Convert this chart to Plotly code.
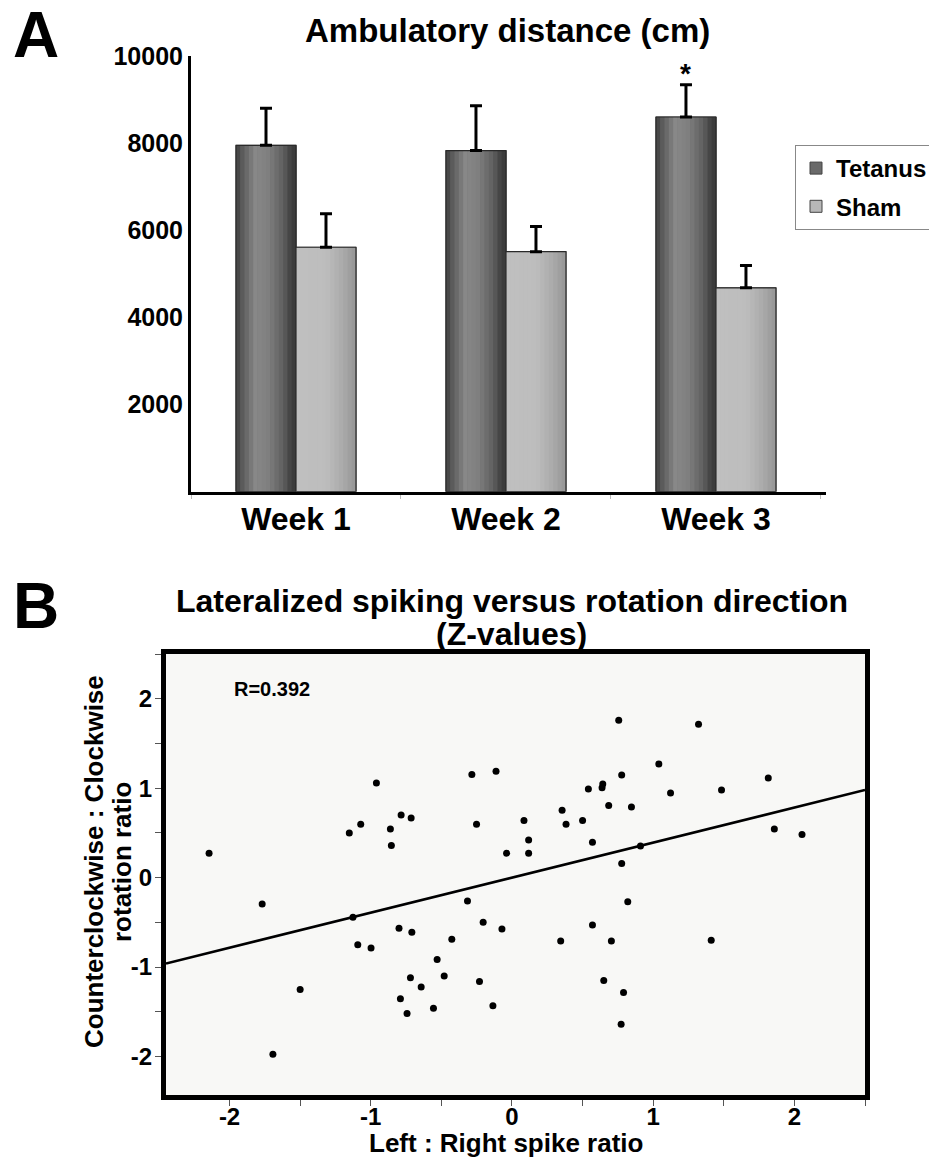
import numpy as np
import plotly.graph_objects as go

# ---------------- data ----------------
weeks = ["Week 1", "Week 2", "Week 3"]
tetanus = [7950, 7830, 8600]
tetanus_err = [850, 1030, 740]
sham = [5610, 5510, 4680]
sham_err = [770, 575, 510]
a_ytick_vals = [2000, 4000, 6000, 8000, 10000]
a_ytick_text = ["2000", "4000", "6000", "8000", "10000"]

spike_ratio = [-2.145, -1.769, -1.50, -1.152, -1.071, -0.960, -0.861, -0.854, -0.785, -0.714,
               -0.284, -0.113, -0.251, -0.038, -1.126, -1.092, -0.998, -0.80, -0.709, -0.426,
               -0.315, -0.204, -0.071, -0.53, -0.719, -0.48, -0.643, -0.23, -0.79, -0.743,
               -0.556, -0.135, -1.693, 0.82, 0.57, 0.345, 0.704, 1.411, 0.65, 0.79,
               0.773, 0.756, 1.321, 1.04, 0.777, 1.815, 0.541, 0.643, 0.638, 1.123,
               1.484, 0.685, 0.846, 0.355, 0.085, 0.383, 0.50, 0.118, 0.118, 0.57,
               1.858, 2.054, 0.91, 0.777]
rotation_ratio = [0.273, -0.295, -1.25, 0.50, 0.597, 1.057, 0.544, 0.359, 0.70, 0.667,
                  1.154, 1.19, 0.596, 0.273, -0.444, -0.749, -0.786, -0.567, -0.611, -0.689,
                  -0.262, -0.50, -0.574, -0.916, -1.12, -1.10, -1.224, -1.16, -1.355, -1.52,
                  -1.46, -1.433, -1.975, -0.27, -0.53, -0.708, -0.708, -0.70, -1.15, -1.284,
                  -1.64, 1.759, 1.715, 1.269, 1.146, 1.113, 0.99, 1.046, 1.005, 0.945,
                  0.979, 0.805, 0.79, 0.753, 0.638, 0.596, 0.638, 0.42, 0.273, 0.396,
                  0.544, 0.481, 0.355, 0.158]
R_value = 0.392
b_tick_vals = [-2, -1.5, -1, -0.5, 0, 0.5, 1, 1.5, 2, 2.5]
b_tick_text = ["-2", "", "-1", "", "0", "", "1", "", "2", ""]

# ---------------- style ----------------
W, H = 929, 1162
FONT = "Liberation Sans, Arial, Helvetica, sans-serif"
BW = 60 / 210  # bar width in category units
NSLICE = 14


def gray(v):
    v = int(round(v))
    return f"rgb({v},{v},{v})"


tet_profile = ([0, 0.08, 0.32, 0.55, 0.78, 0.93, 1.0], [62, 85, 136, 126, 96, 62, 58])
sham_profile = ([0, 0.5, 0.75, 1.0], [192, 189, 172, 150])

fig = go.Figure()


def add_series(name, vals, errs, start, profile, legend_col):
    # base bar (legend carrier)
    fig.add_trace(go.Bar(x=weeks, y=vals, name=name, width=BW, offset=start,
                         marker=dict(color=legend_col, line=dict(color="#444", width=1)),
                         xaxis="x", yaxis="y", showlegend=True, hoverinfo="skip",
                         legendgroup=name))
    # gradient slices
    sw = BW / NSLICE
    for i in range(NSLICE):
        t = (i + 0.5) / NSLICE
        col = gray(np.interp(t, profile[0], profile[1]))
        fig.add_trace(go.Bar(x=weeks, y=vals, width=sw * 1.08, offset=start + i * sw,
                             marker=dict(color=col, line=dict(width=0)),
                             xaxis="x", yaxis="y", showlegend=False, hoverinfo="skip"))
    # outline + error bars
    fig.add_trace(go.Bar(x=weeks, y=vals, width=BW, offset=start,
                         marker=dict(color="rgba(0,0,0,0)", line=dict(color="#2a2a2a", width=1.2)),
                         error_y=dict(type="data", array=errs, symmetric=False,
                                      arrayminus=[0] * len(errs), color="black",
                                      thickness=3, width=6),
                         xaxis="x", yaxis="y", showlegend=False, hoverinfo="skip"))


add_series("Tetanus", tetanus, tetanus_err, -BW, tet_profile, "#6a6a6a")
add_series("Sham", sham, sham_err, 0.0, sham_profile, "#b8b8b8")

# panel B scatter
fig.add_trace(go.Scatter(x=spike_ratio, y=rotation_ratio, mode="markers",
                         marker=dict(color="black", size=7),
                         xaxis="x2", yaxis="y2", showlegend=False, hoverinfo="skip"))
bx_range = [-2.45, 2.5]
by_range = [-2.43, 2.5]
line_x = np.array(bx_range)
fig.add_trace(go.Scatter(x=line_x, y=R_value * line_x, mode="lines",
                         line=dict(color="black", width=2.6),
                         xaxis="x2", yaxis="y2", showlegend=False, hoverinfo="skip"))


def px_x(p):
    return p / W


def px_y(p):
    return 1 - p / H


bold = lambda s: dict(family=FONT, size=s, color="black", weight="bold")

fig.update_layout(
    width=W, height=H,
    margin=dict(l=0, r=0, t=0, b=0, autoexpand=False),
    paper_bgcolor="white",
    plot_bgcolor="white",
    barmode="overlay",
    font=dict(family=FONT, color="black"),
    xaxis=dict(domain=[px_x(191), px_x(826)], anchor="y", type="category",
               range=[-0.5, 2.524], showline=True, linecolor="black", linewidth=3,
               ticks="outside", tickson="boundaries", ticklen=4, tickcolor="#bbb",
               tickfont=bold(32), ticklabelstandoff=-3,
               showgrid=False, zeroline=False, fixedrange=True),
    yaxis=dict(domain=[px_y(491.7), px_y(56)], anchor="x", range=[0, 10000],
               showline=True, linecolor="black", linewidth=3, ticks="",
               tickvals=a_ytick_vals, ticktext=a_ytick_text, tickfont=bold(25),
               ticklabelstandoff=0, showgrid=False, zeroline=False),
    xaxis2=dict(domain=[px_x(166), px_x(865)], anchor="y2", range=bx_range,
                showline=True, mirror=True, linecolor="black", linewidth=5,
                ticks="outside", ticklen=6, tickwidth=1, tickcolor="#555",
                tickvals=b_tick_vals, ticktext=b_tick_text, tickfont=bold(24),
                ticklabelstandoff=-10, showgrid=False, zeroline=False),
    yaxis2=dict(domain=[px_y(1095), px_y(654)], anchor="x2", range=by_range,
                showline=True, mirror=True, linecolor="black", linewidth=5,
                ticks="outside", ticklen=6, tickwidth=1, tickcolor="#555",
                tickvals=b_tick_vals, ticktext=b_tick_text, tickfont=bold(24),
                ticklabelstandoff=-2, showgrid=False, zeroline=False),
    legend=dict(x=px_x(795), y=px_y(145), xanchor="left", yanchor="top",
                bgcolor="white", bordercolor="#888", borderwidth=1,
                font=bold(24), tracegroupgap=4, traceorder="grouped",
                itemwidth=30),
    shapes=[dict(type="rect", xref="x2 domain", yref="y2 domain", x0=0, x1=1, y0=0, y1=1,
                 fillcolor="#f8f8f6", line=dict(width=0), layer="below")],
)

ann = []
ann.append(dict(text="A", x=px_x(11), y=px_y(35), xref="paper", yref="paper",
                xanchor="left", yanchor="middle", showarrow=False, font=bold(64)))
ann.append(dict(text="B", x=px_x(11), y=px_y(606), xref="paper", yref="paper",
                xanchor="left", yanchor="middle", showarrow=False, font=bold(64)))
ann.append(dict(text="Ambulatory distance (cm)", x=px_x(507), y=px_y(31), xref="paper",
                yref="paper", xanchor="center", yanchor="middle", showarrow=False, font=bold(33)))
ann.append(dict(text="Lateralized spiking versus rotation direction", x=px_x(512), y=px_y(601),
                xref="paper", yref="paper", xanchor="center", yanchor="middle",
                showarrow=False, font=bold(32)))
ann.append(dict(text="(Z-values)", x=px_x(512), y=px_y(634), xref="paper", yref="paper",
                xanchor="center", yanchor="middle", showarrow=False, font=bold(32)))
ann.append(dict(text="Counterclockwise : Clockwise", x=px_x(94), y=px_y(862), xref="paper",
                yref="paper", xanchor="center", yanchor="middle", textangle=-90,
                showarrow=False, font=bold(26)))
ann.append(dict(text="rotation ratio", x=px_x(122), y=px_y(862), xref="paper",
                yref="paper", xanchor="center", yanchor="middle", textangle=-90,
                showarrow=False, font=bold(26)))
ann.append(dict(text="Left : Right spike ratio", x=px_x(506), y=px_y(1143), xref="paper",
                yref="paper", xanchor="center", yanchor="middle", showarrow=False, font=bold(26)))
ann.append(dict(text=f"R={R_value}", x=px_x(272), y=px_y(689), xref="paper", yref="paper",
                xanchor="center", yanchor="middle", showarrow=False, font=bold(20)))
# significance marker above week 3 tetanus
ann.append(dict(text="*", x=weeks[2], y=tetanus[2] + tetanus_err[2], xref="x", yref="y",
                xshift=-30, yshift=-6, xanchor="center", yanchor="bottom",
                showarrow=False, font=bold(28)))
fig.update_layout(annotations=ann)

fig.write_html("out.html")
